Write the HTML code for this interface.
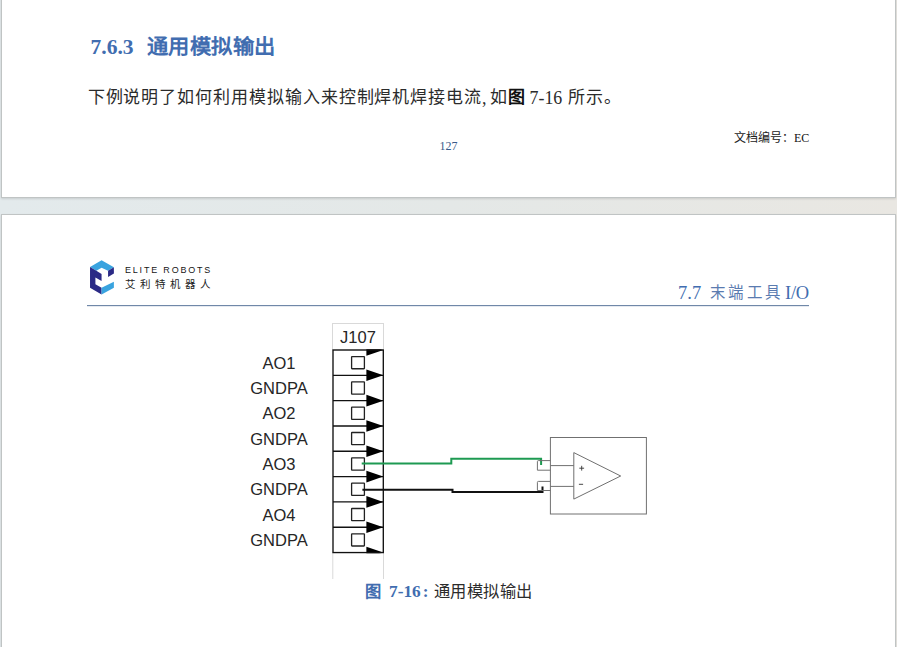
<!DOCTYPE html>
<html lang="zh-CN"><head><meta charset="utf-8">
<style>
html,body{margin:0;padding:0;}
body{width:897px;height:647px;overflow:hidden;background:linear-gradient(to right,#e3eaec 0%,#e4e8e7 50%,#e9e7e2 100%);position:relative;font-family:"Liberation Sans",sans-serif;}
.abs{position:absolute;white-space:nowrap;}
.page{position:absolute;background:#fff;border:1px solid #c0c4c4;box-shadow:0 1px 2px rgba(0,0,0,0.12);}
.serif{font-family:"Liberation Serif",serif;}
.sans{font-family:"Liberation Sans",sans-serif;}
.blue{color:#416db0;}
</style></head>
<body>
<div class="page" style="left:1px;top:-20px;width:893px;height:216px;"></div>
<div class="page" style="left:1px;top:214px;width:893px;height:460px;"></div>

<!-- page 1 -->
<div class="abs blue serif" style="left:90.5px;top:35px;font-size:21.5px;line-height:24px;font-weight:bold;">7.6.3</div>
<div class="abs blue sans" style="left:146.5px;top:35px;font-size:21.3px;line-height:26px;letter-spacing:0.5px;font-weight:bold;transform:scaleY(0.97);transform-origin:0 0;">通用模拟输出</div>
<div class="abs sans" style="left:87.6px;top:86px;font-size:17px;line-height:24px;letter-spacing:0.93px;color:#2b2b2b;">下例说明了如何利用模拟输入来控制焊机焊接电流</div>
<div class="abs serif" style="left:482px;top:86px;font-size:17.9px;line-height:24px;color:#2b2b2b;">,</div>
<div class="abs sans" style="left:490.4px;top:86px;font-size:17px;line-height:24px;letter-spacing:0.93px;color:#2b2b2b;">如<b style="color:#111">图</b></div>
<div class="abs serif" style="left:529.5px;top:86px;font-size:17.9px;line-height:24px;color:#2b2b2b;">7-16</div>
<div class="abs sans" style="left:568px;top:86px;font-size:17px;line-height:24px;letter-spacing:0.93px;color:#2b2b2b;">所示。</div>
<div class="abs serif" style="left:439.5px;top:138.5px;font-size:12px;line-height:15px;color:#395a8a;">127</div>
<div class="abs" style="left:734px;top:131px;font-size:12px;line-height:15px;color:#222;"><span class="sans">文档编号：</span><span class="serif" style="color:#111">EC</span></div>

<!-- page 2 header -->
<svg class="abs" style="left:86px;top:256px" width="32" height="42" viewBox="0 0 32 42">
<polygon fill="#39a3df" points="4.02,11.03 15.57,4.22 27.9,11.36 22.06,14.8 15.57,11.68 10.38,14.8"/>
<polygon fill="#2b2a86" points="22.06,14.8 27.9,11.36 27.9,17.52 22.06,20.9"/>
<polygon fill="#2b2a86" points="4.02,11.03 10.38,14.8 15.57,18.04 15.57,24.98 9.41,21.41 9.41,28.23 15.57,31.8 15.57,38.61 4.02,31.8"/>
<polygon fill="#39a3df" points="15.57,31.8 27.9,25.63 27.9,31.8 15.57,38.61"/>
</svg>
<div class="abs sans" style="left:124.5px;top:265px;font-size:8px;line-height:10px;letter-spacing:1.63px;color:#151515;transform:scale(1.12,1.12);transform-origin:0 0;">ELITE ROBOTS</div>
<div class="abs sans" style="left:124.5px;top:277.5px;font-size:10.5px;line-height:13px;letter-spacing:5.0px;color:#222;">艾利特机器人</div>
<div class="abs" style="left:87px;top:305px;width:722px;height:1px;background:#7088a8;box-shadow:0 0.6px 0.6px rgba(112,136,168,0.35);"></div>
<div class="abs blue serif" style="left:678px;top:283px;font-size:18.5px;line-height:20px;">7.7</div>
<div class="abs blue sans" style="left:710px;top:284px;font-size:15.5px;line-height:18px;letter-spacing:2.4px;color:#5a7bb0;">末端工具</div>
<div class="abs blue serif" style="right:88px;top:283px;font-size:18.5px;line-height:20px;letter-spacing:-0.2px;">I/O</div>

<!-- diagram -->
<svg class="abs" style="left:0;top:0" width="897" height="647" viewBox="0 0 897 647">
<rect x="332.5" y="323.5" width="51" height="26.5" fill="none" stroke="#d9d9d9" stroke-width="1"/>
<line x1="332.8" y1="552" x2="332.8" y2="579" stroke="#d9d9d9" stroke-width="1"/>
<line x1="383.5" y1="552" x2="383.5" y2="579" stroke="#d9d9d9" stroke-width="1"/>
<g font-family="Liberation Sans" font-size="16.5" fill="#262626" text-anchor="middle">
<text x="358" y="342.7">J107</text>
<text x="279" y="368.8">AO1</text>
<text x="279" y="394.1">GNDPA</text>
<text x="279" y="419.4">AO2</text>
<text x="279" y="444.7">GNDPA</text>
<text x="279" y="470.0">AO3</text>
<text x="279" y="495.4">GNDPA</text>
<text x="279" y="520.7">AO4</text>
<text x="279" y="546.0">GNDPA</text>
</g>
<defs><clipPath id="bx"><rect x="332" y="349.3" width="52" height="203.96"/></clipPath></defs>
<g stroke="#111" stroke-width="1.35">
<line x1="333.0" y1="375.32" x2="383.3" y2="375.32"/>
<line x1="333.0" y1="400.64" x2="383.3" y2="400.64"/>
<line x1="333.0" y1="425.96" x2="383.3" y2="425.96"/>
<line x1="333.0" y1="451.28" x2="383.3" y2="451.28"/>
<line x1="333.0" y1="476.60" x2="383.3" y2="476.60"/>
<line x1="333.0" y1="501.92" x2="383.3" y2="501.92"/>
<line x1="333.0" y1="527.24" x2="383.3" y2="527.24"/>
</g>
<g fill="#000" clip-path="url(#bx)">
<polygon points="366.4,344.20 383.3,350.00 366.4,355.80"/>
<polygon points="366.4,369.52 383.3,375.32 366.4,381.12"/>
<polygon points="366.4,394.84 383.3,400.64 366.4,406.44"/>
<polygon points="366.4,420.16 383.3,425.96 366.4,431.76"/>
<polygon points="366.4,445.48 383.3,451.28 366.4,457.08"/>
<polygon points="366.4,470.80 383.3,476.60 366.4,482.40"/>
<polygon points="366.4,496.12 383.3,501.92 366.4,507.72"/>
<polygon points="366.4,521.44 383.3,527.24 366.4,533.04"/>
<polygon points="366.4,546.76 383.3,552.56 366.4,558.36"/>
</g>
<rect x="333.0" y="350.0" width="50.3" height="202.56" fill="none" stroke="#111" stroke-width="1.35"/>
<g fill="none" stroke="#222" stroke-width="1.3">
<rect x="351.6" y="356.56" width="12.8" height="12.2" rx="0.4"/>
<rect x="351.6" y="381.88" width="12.8" height="12.2" rx="0.4"/>
<rect x="351.6" y="407.20" width="12.8" height="12.2" rx="0.4"/>
<rect x="351.6" y="432.52" width="12.8" height="12.2" rx="0.4"/>
<rect x="351.6" y="457.84" width="12.8" height="12.2" rx="0.4"/>
<rect x="351.6" y="483.16" width="12.8" height="12.2" rx="0.4"/>
<rect x="351.6" y="508.48" width="12.8" height="12.2" rx="0.4"/>
<rect x="351.6" y="533.80" width="12.8" height="12.2" rx="0.4"/>
</g>
<path d="M361.7 463.6 H451.3 V458.7 H541.1 V465" fill="none" stroke="#1e9a52" stroke-width="2"/>
<path d="M362.4 489.8 H452.5 V491.9 H542.5 V486.6" fill="none" stroke="#111" stroke-width="2"/>
<g fill="none" stroke="#707070" stroke-width="1">
<rect x="550.4" y="437.5" width="96" height="76.5"/>
<path d="M550.4 460.6 H538.4 Q537.4 460.6 537.4 461.6 V470.2 H550.4"/>
<path d="M550.4 481.4 H538.4 Q537.4 481.4 537.4 482.4 V490.5 H550.4"/>
<path d="M550.4 465.6 H573.8 M550.4 486.4 H573.8"/>
<polygon points="573.8,452.6 620.7,476 573.8,499.1"/>
</g>
<g stroke="#333" stroke-width="0.9">
<path d="M579.3 468.2 H584.1 M581.7 465.8 V470.6"/>
<path d="M578.9 484.3 H583.1"/>
</g>
</svg>
<div class="abs sans blue" style="left:364.5px;top:579px;font-size:16.3px;line-height:24px;font-weight:bold;">图</div>
<div class="abs serif blue" style="left:389px;top:580px;font-size:17.3px;line-height:24px;font-weight:bold">7-16</div>
<div class="abs serif blue" style="left:422.8px;top:580px;font-size:17.3px;line-height:24px;font-weight:bold">:</div>
<div class="abs sans" style="left:434px;top:579px;font-size:16.3px;line-height:24px;letter-spacing:0.45px;color:#2b2b2b;">通用模拟输出</div>
</body></html>
